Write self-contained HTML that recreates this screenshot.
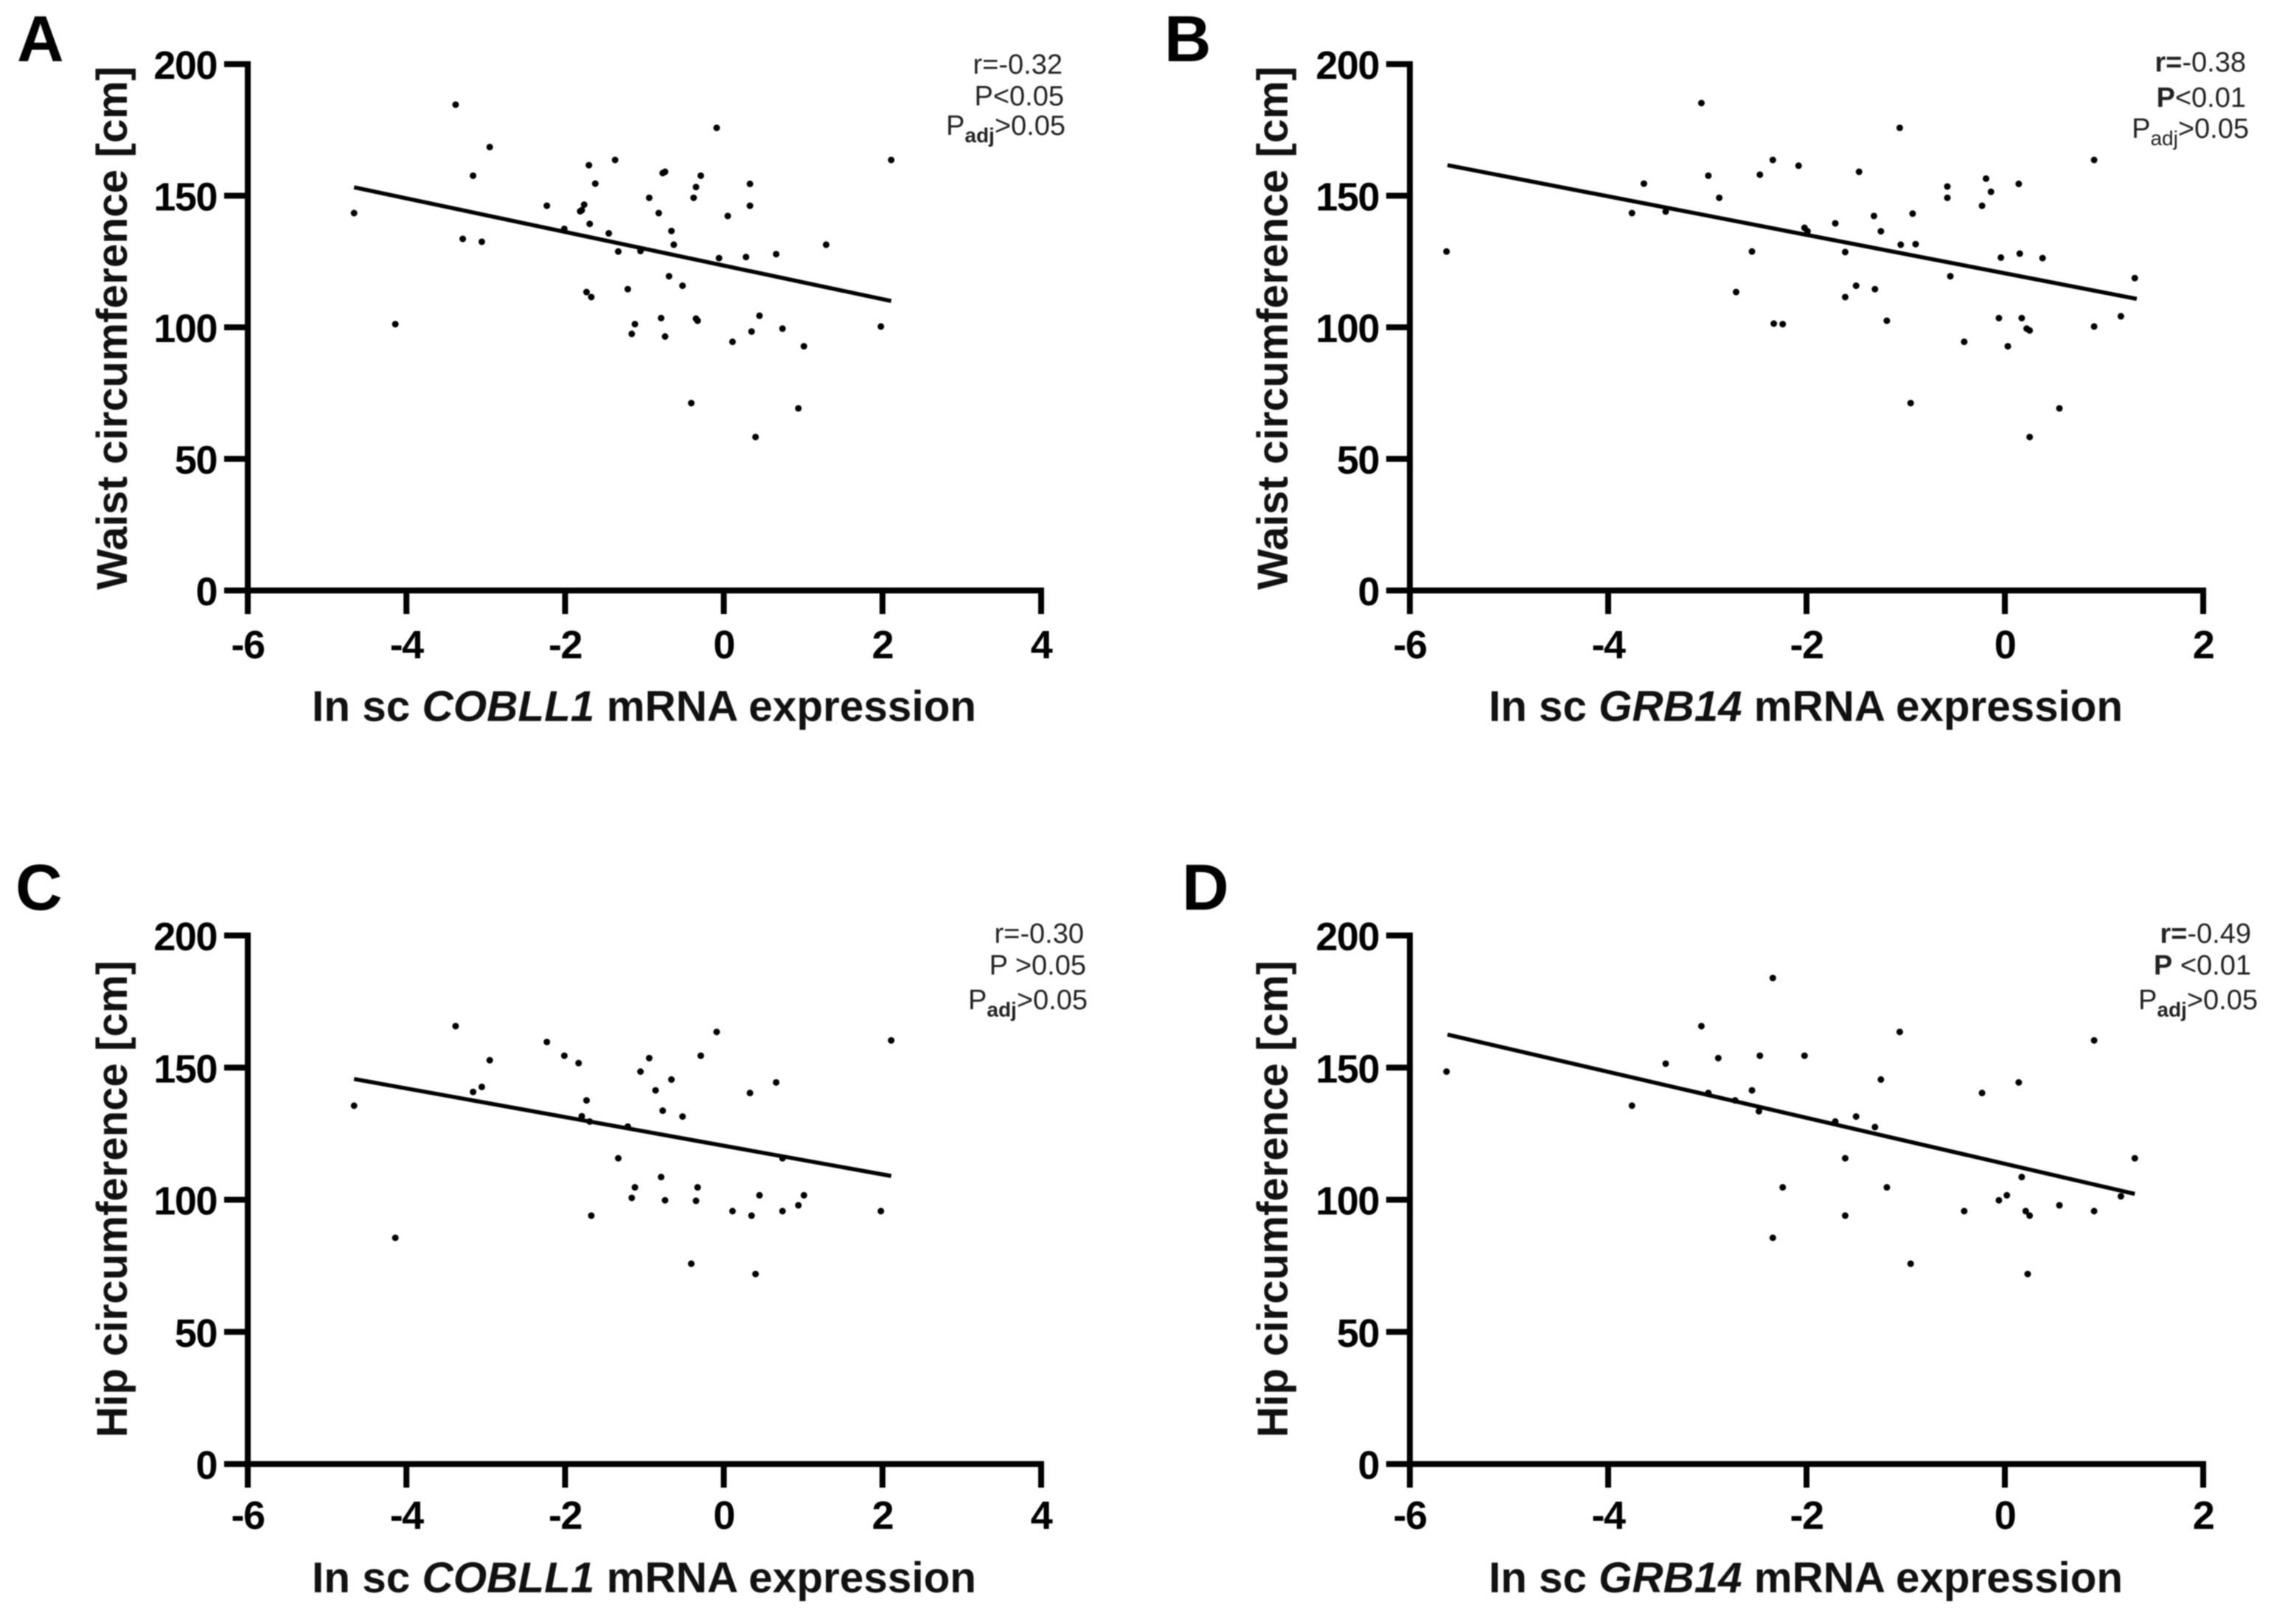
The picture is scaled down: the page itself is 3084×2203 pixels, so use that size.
<!DOCTYPE html>
<html lang="en">
<head>
<meta charset="utf-8">
<title>Waist and hip circumference vs mRNA expression</title>
<style>
html,body{margin:0;padding:0;background:#fff;}
svg{display:block;font-family:"Liberation Sans",Arial,sans-serif;filter:blur(0.8px);}
.letter{font-size:88px;font-weight:bold;fill:#000;}
.title{font-size:58px;font-weight:bold;fill:#111;}
.stat{font-size:38px;fill:#222;text-anchor:end;}
.tick{font-size:54px;font-weight:bold;fill:#000;letter-spacing:-1.5px;}
</style>
</head>
<body>
<svg id="fig" xmlns="http://www.w3.org/2000/svg" width="3084" height="2203" viewBox="0 0 3084 2203">
  <rect width="3084" height="2203" fill="#fff"/>

  <g id="panel-a">
    <text class="letter" x="23" y="83">A</text>
    <text class="title" transform="translate(172,800) rotate(-90)" textLength="710" lengthAdjust="spacingAndGlyphs">Waist circumference [cm]</text>
    <text class="title" x="423" y="978" textLength="901" lengthAdjust="spacingAndGlyphs">In sc <tspan font-style="italic">COBLL1</tspan> mRNA expression</text>
    <text class="stat" x="1441" y="100">r=-0.32</text>
    <text class="stat" x="1443" y="143">P&lt;0.05</text>
    <text class="stat" x="1445" y="183">P<tspan font-size="28" font-weight="bold" dy="10">adj</tspan><tspan dy="-10">&gt;0.05</tspan></text>
  </g>

  <g id="panel-b">
    <text class="letter" x="1579" y="83">B</text>
    <text class="title" transform="translate(1746,800) rotate(-90)" textLength="710" lengthAdjust="spacingAndGlyphs">Waist circumference [cm]</text>
    <text class="title" x="2019" y="978" textLength="860" lengthAdjust="spacingAndGlyphs">In sc <tspan font-style="italic">GRB14</tspan> mRNA expression</text>
    <text class="stat" x="3046" y="97"><tspan font-weight="bold">r=</tspan>-0.38</text>
    <text class="stat" x="3046" y="145"><tspan font-weight="bold">P</tspan>&lt;0.01</text>
    <text class="stat" x="3050" y="187">P<tspan font-size="28" dy="10">adj</tspan><tspan dy="-10">&gt;0.05</tspan></text>
  </g>

  <g id="panel-c">
    <text class="letter" x="21" y="1234">C</text>
    <text class="title" transform="translate(172,1950) rotate(-90)" textLength="647" lengthAdjust="spacingAndGlyphs">Hip circumference [cm]</text>
    <text class="title" x="423" y="2160" textLength="901" lengthAdjust="spacingAndGlyphs">In sc <tspan font-style="italic">COBLL1</tspan> mRNA expression</text>
    <text class="stat" x="1470" y="1279">r=-0.30</text>
    <text class="stat" x="1473" y="1322">P &gt;0.05</text>
    <text class="stat" x="1475" y="1369">P<tspan font-size="28" font-weight="bold" dy="10">adj</tspan><tspan dy="-10">&gt;0.05</tspan></text>
  </g>

  <g id="panel-d">
    <text class="letter" x="1603" y="1234">D</text>
    <text class="title" transform="translate(1746,1950) rotate(-90)" textLength="647" lengthAdjust="spacingAndGlyphs">Hip circumference [cm]</text>
    <text class="title" x="2019" y="2160" textLength="860" lengthAdjust="spacingAndGlyphs">In sc <tspan font-style="italic">GRB14</tspan> mRNA expression</text>
    <text class="stat" x="3053" y="1279"><tspan font-weight="bold">r=</tspan>-0.49</text>
    <text class="stat" x="3053" y="1322"><tspan font-weight="bold">P</tspan> &lt;0.01</text>
    <text class="stat" x="3062" y="1369">P<tspan font-size="28" font-weight="bold" dy="10">adj</tspan><tspan dy="-10">&gt;0.05</tspan></text>
  </g>
</svg>

<script>
// Tick labels
const yTicks = [0, 50, 100, 150, 200];
const xTicksCobll1 = [-6, -4, -2, 0, 2, 4];
const xTicksGrb14 = [-6, -4, -2, 0, 2];

// Panel A: waist vs COBLL1
const aExpression = [-4.66,-4.14,-3.38,-3.29,-3.16,-3.05,-2.95,-2.23,-2.01,-1.81,-1.79,-1.76,-1.70,-1.69,-1.62,-1.73,-1.67,-1.45,-1.33,-1.37,-1.21,-1.16,-1.12,-1.05,-0.94,-0.82,-0.79,-0.77,-0.74,-0.74,-0.69,-0.66,-0.63,-0.52,-0.38,-0.35,-0.35,-0.33,-0.29,-0.41,-0.09,-0.06,0.05,0.11,0.28,0.33,0.33,0.35,0.45,0.40,0.66,0.74,0.94,1.01,1.29,1.98,2.11];
const aWaist = [143.4,101.2,184.6,133.6,157.6,132.5,168.5,146.2,137.4,144.1,144.5,146.6,161.6,139.3,154.6,113.4,111.5,135.7,128.8,163.6,114.5,97.5,101.2,129,149.2,143.4,103.5,158.6,159.1,96.5,119.4,136.6,131.4,115.8,149.2,153.3,103.3,102.5,157.6,71.2,175.8,126.3,142.3,94.5,126.7,154.5,146.2,98.4,104.4,58.3,127.8,99.5,69.2,92.8,131.4,100.3,163.6];
const aFitX = [-4.66, 2.11];
const aFitY = [153.2, 110];

// Panel B: waist vs GRB14
const bExpression = [-5.63,-3.76,-3.64,-3.42,-3.06,-2.99,-2.88,-2.71,-2.55,-2.47,-2.34,-2.33,-2.24,-2.08,-2.02,-1.99,-1.71,-1.61,-1.61,-1.50,-1.47,-1.32,-1.31,-1.25,-1.19,-1.06,-1.05,-0.95,-0.93,-0.90,-0.58,-0.58,-0.55,-0.41,-0.23,-0.19,-0.14,-0.06,-0.04,0.03,0.14,0.15,0.17,0.22,0.25,0.25,0.38,0.55,0.90,0.90,1.17,1.31];
const bWaist = [128.8,143.4,154.6,144,185.2,157.6,149.2,113.4,128.8,158,163.6,101.4,101.2,161.4,137.8,136.5,139.5,128.6,111.5,115.8,159.1,142.3,114.5,136.5,102.5,175.8,131.4,71.2,143.2,131.6,153.5,149.2,119.4,94.5,146.2,156.5,151.5,103.5,126.5,92.8,154.5,128,103.5,99.5,98.8,58.3,126.3,69.2,163.6,100.3,104.2,118.7];
const bFitX = [-5.62, 1.33];
const bFitY = [161.6, 110.8];

// Panel C: hip vs COBLL1
const cExpression = [-4.66,-4.14,-3.38,-3.16,-3.05,-2.95,-2.23,-2.01,-1.83,-1.79,-1.73,-1.69,-1.67,-1.33,-1.21,-1.16,-1.12,-1.05,-0.94,-0.86,-0.79,-0.77,-0.74,-0.66,-0.52,-0.41,-0.35,-0.33,-0.29,-0.09,0.11,0.33,0.35,0.45,0.40,0.66,0.74,0.74,0.94,1.01,1.98,2.11];
const cHip = [135.6,85.6,165.7,140.8,142.7,152.8,159.7,154.5,151.7,131.6,137.6,129.6,94,115.7,127.7,100.7,104.7,148.5,153.6,141.4,108.6,133.7,99.8,145.5,131.5,75.8,99.6,104.7,154.5,163.5,95.7,140.4,94,101.7,71.9,144.4,115.7,95.7,97.9,101.7,95.7,160.3];
const cFitX = [-4.66, 2.11];
const cFitY = [145.7, 109];

// Panel D: hip vs GRB14
const dExpression = [-5.63,-3.76,-3.42,-3.06,-2.99,-2.89,-2.72,-2.55,-2.47,-2.48,-2.34,-2.34,-2.24,-2.02,-1.71,-1.61,-1.61,-1.50,-1.31,-1.25,-1.19,-1.06,-0.95,-0.41,-0.23,-0.06,0.02,0.14,0.17,0.21,0.25,0.23,0.55,0.90,0.90,1.17,1.31];
const dHip = [148.5,135.6,151.5,165.7,140.4,153.6,137.6,141.4,154.5,133.5,183.9,85.6,104.7,154.5,129.6,115.7,94,131.5,127.5,145.5,104.7,163.5,75.8,95.7,140.4,99.8,101.7,144.4,108.6,95.7,94,71.9,97.9,95.7,160.3,101.3,115.7];
const dFitX = [-5.62, 1.31];
const dFitY = [162.5, 102.2];

const SVG_NS = 'http://www.w3.org/2000/svg';

function makeScale(domainMin, domainMax, rangeMin, rangeMax) {
  return function (v) {
    return rangeMin + (v - domainMin) / (domainMax - domainMin) * (rangeMax - rangeMin);
  };
}

function drawPanel(groupId, box, xTicks, xs, ys, fitX, fitY) {
  const group = document.getElementById(groupId);
  const sx = makeScale(xTicks[0], xTicks[xTicks.length - 1], box.left, box.right);
  const sy = makeScale(yTicks[0], yTicks[yTicks.length - 1], box.bottom, box.top);

  const yAxis = document.createElementNS(SVG_NS, 'line');
  
  
  yAxis.setAttribute('x1', box.left);
  yAxis.setAttribute('x2', box.left);
  yAxis.setAttribute('y1', box.top - 4);
  yAxis.setAttribute('y2', box.bottom + 4);
  yAxis.setAttribute('stroke', '#000');
  yAxis.setAttribute('stroke-width', 8);
  group.appendChild(yAxis);

  const xAxis = document.createElementNS(SVG_NS, 'line');
  
  
  xAxis.setAttribute('x1', box.left - 4);
  xAxis.setAttribute('x2', box.right + 4);
  xAxis.setAttribute('y1', box.bottom);
  xAxis.setAttribute('y2', box.bottom);
  xAxis.setAttribute('stroke', '#000');
  xAxis.setAttribute('stroke-width', 8);
  group.appendChild(xAxis);

  yTicks.forEach(function (t) {
    const mark = document.createElementNS(SVG_NS, 'line');
    
    
    mark.setAttribute('x1', box.left - 32);
    mark.setAttribute('x2', box.left);
    mark.setAttribute('y1', sy(t));
    mark.setAttribute('y2', sy(t));
    mark.setAttribute('stroke', '#000');
    mark.setAttribute('stroke-width', 8);
    group.appendChild(mark);

    const label = document.createElementNS(SVG_NS, 'text');
    
    
    label.setAttribute('class', 'tick');
    label.setAttribute('x', box.left - 42);
    label.setAttribute('y', sy(t) + 20);
    label.setAttribute('text-anchor', 'end');
    label.textContent = String(t);
    group.appendChild(label);
  });

  xTicks.forEach(function (t) {
    const mark = document.createElementNS(SVG_NS, 'line');
    
    
    mark.setAttribute('x1', sx(t));
    mark.setAttribute('x2', sx(t));
    mark.setAttribute('y1', box.bottom);
    mark.setAttribute('y2', box.bottom + 32);
    mark.setAttribute('stroke', '#000');
    mark.setAttribute('stroke-width', 8);
    group.appendChild(mark);

    const label = document.createElementNS(SVG_NS, 'text');
    
    
    label.setAttribute('class', 'tick');
    label.setAttribute('x', sx(t));
    label.setAttribute('y', box.bottom + box.labelGap);
    label.setAttribute('text-anchor', 'middle');
    label.textContent = String(t);
    group.appendChild(label);
  });

  xs.forEach(function (xv, i) {
    const dot = document.createElementNS(SVG_NS, 'circle');
    
    
    dot.setAttribute('cx', sx(xv));
    dot.setAttribute('cy', sy(ys[i]));
    dot.setAttribute('r', 4.5);
    dot.setAttribute('fill', '#000');
    group.appendChild(dot);
  });

  const fit = document.createElementNS(SVG_NS, 'line');
  
  
  fit.setAttribute('x1', sx(fitX[0]));
  fit.setAttribute('y1', sy(fitY[0]));
  fit.setAttribute('x2', sx(fitX[1]));
  fit.setAttribute('y2', sy(fitY[1]));
  fit.setAttribute('stroke', '#000');
  fit.setAttribute('stroke-width', 5.5);
  group.appendChild(fit);
}

drawPanel('panel-a', {left: 336, right: 1412, top: 87, bottom: 801, labelGap: 92}, xTicksCobll1, aExpression, aWaist, aFitX, aFitY);
drawPanel('panel-b', {left: 1912, right: 2988, top: 87, bottom: 801, labelGap: 92}, xTicksGrb14, bExpression, bWaist, bFitX, bFitY);
drawPanel('panel-c', {left: 336, right: 1412, top: 1269, bottom: 1986, labelGap: 88}, xTicksCobll1, cExpression, cHip, cFitX, cFitY);
drawPanel('panel-d', {left: 1912, right: 2988, top: 1269, bottom: 1986, labelGap: 88}, xTicksGrb14, dExpression, dHip, dFitX, dFitY);
</script>
</body>
</html>
